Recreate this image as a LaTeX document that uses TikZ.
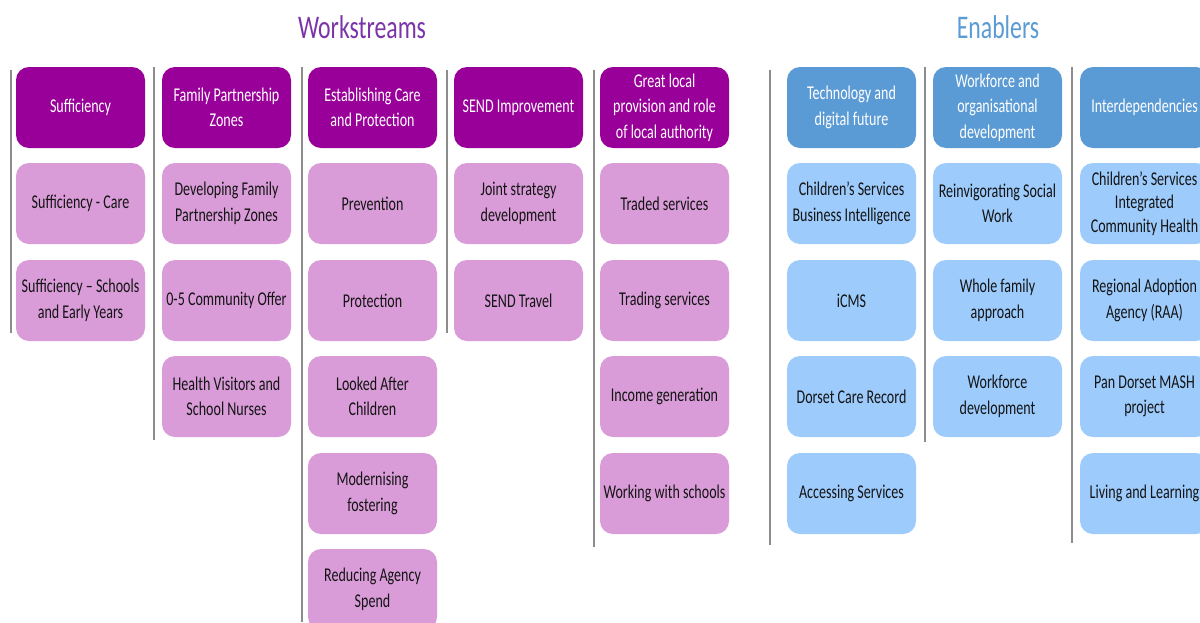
\documentclass[tikz,border=0pt]{standalone}
\usepackage{fontspec}
\usepackage{graphicx}
\setmainfont{Carlito}
\definecolor{wsdark}{HTML}{990099}
\definecolor{wslight}{HTML}{D99CD8}
\definecolor{endark}{HTML}{5B9BD5}
\definecolor{enlight}{HTML}{9CCBFC}
\definecolor{wstitle}{HTML}{7B35A8}
\definecolor{entitle}{HTML}{5B9BD5}
\definecolor{sepgray}{HTML}{8C8C8C}
\definecolor{boxtext}{HTML}{141414}
% condensed lettering: set normally, then squeeze horizontally
\newcommand{\cardtext}[2][25.5]{\scalebox{0.72}[1]{\parbox{178pt}{\centering
  \fontsize{19.5}{#1}\selectfont #2}}}
\newcommand{\headtext}[1]{\scalebox{0.72}[1]{\fontsize{33}{36}\selectfont #1}}
\begin{document}
\begin{tikzpicture}[x=1pt,y=-1pt,
  card/.style={rounded corners=13pt, minimum width=129pt, minimum height=81pt,
    inner sep=0pt},
  wshead/.style={card, fill=wsdark, text=white},
  wsitem/.style={card, fill=wslight, text=boxtext},
  enhead/.style={card, fill=endark, text=white},
  enitem/.style={card, fill=enlight, text=boxtext},
  sep/.style={draw=sepgray, line width=2pt}]
\useasboundingbox[fill=white] (0,0) rectangle (1200,622);

% section titles
\node[text=wstitle] (tws) at (362,27) {\headtext{Workstreams}};
\node[text=entitle] (ten) at (998,27) {\headtext{Enablers}};

% vertical separators between the columns
\draw[sep] (11,70) -- (11,333);
\draw[sep] (154,67) -- (154,440);
\draw[sep] (302,67) -- (302,622);
\draw[sep] (447,70) -- (447,333);
\draw[sep] (594,70) -- (594,547);
\draw[sep] (770,70) -- (770,545);
\draw[sep] (925,67) -- (925,442);
\draw[sep] (1072,67) -- (1072,543);

% column centres: 80.5, 226.5, 372.5, 518.5, 664.5, 851.5, 997.5, 1144.5
% row centres: 107.5, 203.5, 300.5, 396.5, 493.5, 589.5

% Sufficiency
\node[wshead] (s0) at (80.5,107.5) {\cardtext{Sufficiency}};
\node[wsitem] (s1) at (80.5,203.5) {\cardtext{Sufficiency - Care}};
\node[wsitem] (s2) at (80.5,300.5) {\cardtext{Sufficiency -- Schools\\and Early Years}};

% Family Partnership Zones
\node[wshead] (f0) at (226.5,107.5) {\cardtext{Family Partnership\\Zones}};
\node[wsitem] (f1) at (226.5,203.5) {\cardtext{Developing Family\\Partnership Zones}};
\node[wsitem] (f2) at (226.5,300.5) {\cardtext{0-5 Community Offer}};
\node[wsitem] (f3) at (226.5,396.5) {\cardtext{Health Visitors and\\School Nurses}};

% Establishing Care and Protection
\node[wshead] (c0) at (372.5,107.5) {\cardtext{Establishing Care\\and Protection}};
\node[wsitem] (c1) at (372.5,203.5) {\cardtext{Prevention}};
\node[wsitem] (c2) at (372.5,300.5) {\cardtext{Protection}};
\node[wsitem] (c3) at (372.5,396.5) {\cardtext{Looked After\\Children}};
\node[wsitem] (c4) at (372.5,493.5) {\cardtext{Modernising\\fostering}};
\node[wsitem] (c5) at (372.5,589.5) {\cardtext{Reducing Agency\\Spend}};

% SEND Improvement
\node[wshead] (d0) at (518.5,107.5) {\cardtext{SEND Improvement}};
\node[wsitem] (d1) at (518.5,203.5) {\cardtext{Joint strategy\\development}};
\node[wsitem] (d2) at (518.5,300.5) {\cardtext{SEND Travel}};

% Great local provision
\node[wshead] (g0) at (664.5,107.5) {\cardtext{Great local\\provision and role\\of local authority}};
\node[wsitem] (g1) at (664.5,203.5) {\cardtext{Traded services}};
\node[wsitem] (g2) at (664.5,300.5) {\cardtext{Trading services}};
\node[wsitem] (g3) at (664.5,396.5) {\cardtext{Income generation}};
\node[wsitem] (g4) at (664.5,493.5) {\cardtext{Working with schools}};

% Technology and digital future
\node[enhead] (t0) at (851.5,107.5) {\cardtext{Technology and\\digital future}};
\node[enitem] (t1) at (851.5,203.5) {\cardtext{Children’s Services\\Business Intelligence}};
\node[enitem] (t2) at (851.5,300.5) {\cardtext{iCMS}};
\node[enitem] (t3) at (851.5,396.5) {\cardtext{Dorset Care Record}};
\node[enitem] (t4) at (851.5,493.5) {\cardtext{Accessing Services}};

% Workforce and organisational development
\node[enhead] (w0) at (997.5,107.5) {\cardtext{Workforce and\\organisational\\development}};
\node[enitem] (w1) at (997.5,203.5) {\cardtext{Reinvigorating Social\\Work}};
\node[enitem] (w2) at (997.5,300.5) {\cardtext{Whole family\\approach}};
\node[enitem] (w3) at (997.5,396.5) {\cardtext{Workforce\\development}};

% Interdependencies
\node[enhead] (i0) at (1144.5,107.5) {\cardtext{Interdependencies}};
\node[enitem] (i1) at (1144.5,203.5) {\cardtext[23.5]{Children’s Services\\Integrated\\Community Health}};
\node[enitem] (i2) at (1144.5,300.5) {\cardtext{Regional Adoption\\Agency (RAA)}};
\node[enitem] (i3) at (1144.5,396.5) {\cardtext{Pan Dorset MASH\\project}};
\node[enitem] (i4) at (1144.5,493.5) {\cardtext{Living and Learning}};
\end{tikzpicture}
\end{document}
